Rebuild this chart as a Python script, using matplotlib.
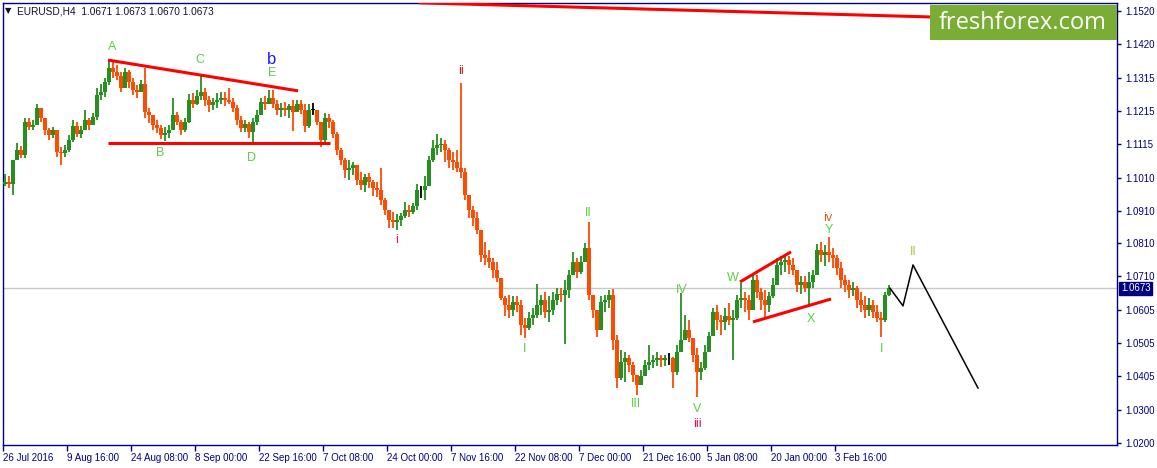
import matplotlib
matplotlib.use('Agg')
import matplotlib.pyplot as plt
from matplotlib.patches import Rectangle
import matplotlib.transforms as mtransforms

# EURUSD H4, one candle here = 4 H4 bars
bars_per_candle = 4
first_open = 1.0990
closes = [
    1.0998, 1.0992, 1.1065, 1.1095, 1.1080, 1.1181, 1.1166, 1.1172, 1.1224, 1.1193,
    1.1156, 1.1141, 1.1156, 1.1089, 1.1086, 1.1095, 1.1126, 1.1169, 1.1144, 1.1156,
    1.1187, 1.1172, 1.1196, 1.1263, 1.1273, 1.1303, 1.1346, 1.1334, 1.1321, 1.1285,
    1.1334, 1.1303, 1.1279, 1.1273, 1.1297, 1.1212, 1.1202, 1.1172, 1.1163, 1.1141,
    1.1147, 1.1156, 1.1202, 1.1181, 1.1156, 1.1181, 1.1248, 1.1236, 1.1260, 1.1273,
    1.1248, 1.1233, 1.1242, 1.1248, 1.1254, 1.1248, 1.1242, 1.1224, 1.1187, 1.1163,
    1.1175, 1.1150, 1.1181, 1.1202, 1.1242, 1.1236, 1.1254, 1.1236, 1.1218, 1.1224,
    1.1218, 1.1230, 1.1212, 1.1236, 1.1218, 1.1169, 1.1218, 1.1218, 1.1181, 1.1126,
    1.1193, 1.1181, 1.1144, 1.1095, 1.1065, 1.1034, 1.1040, 1.1050, 1.1004, 1.0988,
    1.1013, 1.0998, 1.0979, 1.0973, 1.0943, 1.0912, 1.0882, 1.0875, 1.0882, 1.0894,
    1.0912, 1.0906, 1.0924, 1.0973, 1.0973, 1.0985, 1.1065, 1.1102, 1.1111, 1.1114,
    1.1095, 1.1065, 1.1059, 1.1040, 1.1028, 1.0958, 1.0912, 1.0888, 1.0851, 1.0775,
    1.0766, 1.0753, 1.0729, 1.0704, 1.0643, 1.0622, 1.0607, 1.0631, 1.0622, 1.0561,
    1.0552, 1.0582, 1.0591, 1.0622, 1.0637, 1.0601, 1.0607, 1.0637, 1.0655, 1.0652,
    1.0668, 1.0713, 1.0753, 1.0723, 1.0753, 1.0796, 1.0652, 1.0607, 1.0546, 1.0631,
    1.0637, 1.0652, 1.0515, 1.0399, 1.0448, 1.0460, 1.0438, 1.0408, 1.0378, 1.0405,
    1.0438, 1.0448, 1.0454, 1.0460, 1.0454, 1.0460, 1.0460, 1.0417, 1.0478, 1.0515,
    1.0546, 1.0521, 1.0469, 1.0417, 1.0429, 1.0478, 1.0527, 1.0601, 1.0576, 1.0570,
    1.0588, 1.0576, 1.0582, 1.0637, 1.0643, 1.0637, 1.0607, 1.0698, 1.0662, 1.0637,
    1.0622, 1.0649, 1.0683, 1.0744, 1.0753, 1.0759, 1.0744, 1.0729, 1.0683, 1.0692,
    1.0674, 1.0692, 1.0713, 1.0790, 1.0775, 1.0784, 1.0775, 1.0766, 1.0735, 1.0698,
    1.0683, 1.0668, 1.0674, 1.0637, 1.0622, 1.0607, 1.0622, 1.0601, 1.0582, 1.0576,
    1.0652, 1.0673,
]
highs = [
    1.1022, 1.1016, 1.1028, 1.1117, 1.1108, 1.1193, 1.1193, 1.1187, 1.1236, 1.1224,
    1.1193, 1.1163, 1.1166, 1.1156, 1.1105, 1.1111, 1.1141, 1.1187, 1.1181, 1.1169,
    1.1218, 1.1193, 1.1208, 1.1285, 1.1297, 1.1315, 1.1370, 1.1364, 1.1355, 1.1334,
    1.1346, 1.1340, 1.1315, 1.1294, 1.1309, 1.1346, 1.1224, 1.1196, 1.1187, 1.1172,
    1.1166, 1.1172, 1.1254, 1.1212, 1.1187, 1.1193, 1.1267, 1.1270, 1.1279, 1.1328,
    1.1285, 1.1260, 1.1254, 1.1270, 1.1273, 1.1273, 1.1285, 1.1254, 1.1233, 1.1199,
    1.1187, 1.1181, 1.1193, 1.1218, 1.1254, 1.1260, 1.1279, 1.1279, 1.1248, 1.1239,
    1.1242, 1.1236, 1.1248, 1.1248, 1.1248, 1.1236, 1.1236, 1.1239, 1.1218, 1.1181,
    1.1208, 1.1205, 1.1187, 1.1150, 1.1102, 1.1071, 1.1065, 1.1059, 1.1050, 1.1028,
    1.1022, 1.1025, 1.1004, 1.0998, 1.1040, 1.0949, 1.0912, 1.0906, 1.0900, 1.0903,
    1.0937, 1.0927, 1.0933, 1.0992, 1.0985, 1.1016, 1.1077, 1.1126, 1.1144, 1.1132,
    1.1126, 1.1102, 1.1089, 1.1095, 1.1300, 1.1040, 1.0949, 1.0924, 1.0906, 1.0820,
    1.0814, 1.0790, 1.0766, 1.0753, 1.0698, 1.0649, 1.0652, 1.0649, 1.0649, 1.0637,
    1.0582, 1.0601, 1.0613, 1.0686, 1.0652, 1.0662, 1.0649, 1.0662, 1.0674, 1.0674,
    1.0698, 1.0729, 1.0784, 1.0766, 1.0772, 1.0812, 1.0875, 1.0643, 1.0607, 1.0649,
    1.0652, 1.0668, 1.0670, 1.0530, 1.0484, 1.0478, 1.0469, 1.0448, 1.0408, 1.0423,
    1.0454, 1.0500, 1.0469, 1.0478, 1.0469, 1.0469, 1.0475, 1.0463, 1.0500, 1.0659,
    1.0591, 1.0576, 1.0521, 1.0491, 1.0448, 1.0500, 1.0539, 1.0613, 1.0622, 1.0591,
    1.0613, 1.0628, 1.0607, 1.0652, 1.0689, 1.0662, 1.0652, 1.0720, 1.0713, 1.0674,
    1.0668, 1.0662, 1.0704, 1.0766, 1.0772, 1.0778, 1.0772, 1.0766, 1.0729, 1.0710,
    1.0710, 1.0723, 1.0729, 1.0808, 1.0814, 1.0805, 1.0829, 1.0796, 1.0775, 1.0753,
    1.0713, 1.0698, 1.0692, 1.0680, 1.0662, 1.0649, 1.0643, 1.0637, 1.0622, 1.0601,
    1.0662, 1.0683,
]
lows = [
    1.0985, 1.0979, 1.0958, 1.1065, 1.1071, 1.1071, 1.1156, 1.1156, 1.1172, 1.1181,
    1.1141, 1.1126, 1.1132, 1.1074, 1.1050, 1.1074, 1.1089, 1.1120, 1.1135, 1.1132,
    1.1163, 1.1156, 1.1175, 1.1187, 1.1248, 1.1257, 1.1294, 1.1315, 1.1309, 1.1273,
    1.1294, 1.1285, 1.1263, 1.1254, 1.1273, 1.1193, 1.1178, 1.1156, 1.1147, 1.1129,
    1.1123, 1.1132, 1.1163, 1.1172, 1.1141, 1.1150, 1.1178, 1.1224, 1.1233, 1.1248,
    1.1230, 1.1212, 1.1218, 1.1224, 1.1236, 1.1230, 1.1236, 1.1212, 1.1172, 1.1150,
    1.1150, 1.1132, 1.1120, 1.1172, 1.1202, 1.1218, 1.1236, 1.1224, 1.1202, 1.1196,
    1.1199, 1.1193, 1.1153, 1.1212, 1.1205, 1.1150, 1.1163, 1.1202, 1.1172, 1.1105,
    1.1111, 1.1163, 1.1132, 1.1080, 1.1050, 1.1010, 1.1004, 1.1019, 1.0988, 1.0973,
    1.0967, 1.0979, 1.0955, 1.0952, 1.0927, 1.0897, 1.0857, 1.0857, 1.0851, 1.0863,
    1.0888, 1.0891, 1.0900, 1.0912, 1.0949, 1.0943, 1.0998, 1.1059, 1.1080, 1.1089,
    1.1059, 1.1040, 1.1034, 1.1028, 1.1010, 1.0943, 1.0888, 1.0863, 1.0839, 1.0753,
    1.0744, 1.0735, 1.0704, 1.0692, 1.0637, 1.0588, 1.0582, 1.0588, 1.0601, 1.0530,
    1.0521, 1.0546, 1.0561, 1.0582, 1.0591, 1.0582, 1.0570, 1.0591, 1.0622, 1.0631,
    1.0503, 1.0643, 1.0729, 1.0704, 1.0717, 1.0753, 1.0637, 1.0582, 1.0524, 1.0582,
    1.0601, 1.0613, 1.0484, 1.0368, 1.0393, 1.0387, 1.0417, 1.0387, 1.0347, 1.0378,
    1.0408, 1.0423, 1.0429, 1.0435, 1.0432, 1.0435, 1.0438, 1.0368, 1.0408, 1.0478,
    1.0515, 1.0509, 1.0448, 1.0341, 1.0393, 1.0423, 1.0478, 1.0530, 1.0546, 1.0530,
    1.0546, 1.0561, 1.0454, 1.0576, 1.0613, 1.0601, 1.0576, 1.0622, 1.0643, 1.0607,
    1.0582, 1.0601, 1.0643, 1.0692, 1.0713, 1.0723, 1.0717, 1.0713, 1.0662, 1.0655,
    1.0662, 1.0622, 1.0674, 1.0744, 1.0753, 1.0741, 1.0753, 1.0735, 1.0713, 1.0674,
    1.0662, 1.0643, 1.0649, 1.0613, 1.0601, 1.0582, 1.0588, 1.0582, 1.0570, 1.0524,
    1.0570, 1.0649,
]

price_ticks = [1.1520, 1.1420, 1.1315, 1.1215, 1.1115, 1.1010, 1.0910,
               1.0810, 1.0710, 1.0605, 1.0505, 1.0405, 1.0300, 1.0200]
date_bars = [0, 64, 128, 192, 256, 320, 384, 448, 512, 576, 640, 704, 768, 832]
date_labels = ['26 Jul 2016', '9 Aug 16:00', '24 Aug 08:00', '8 Sep 00:00',
               '22 Sep 16:00', '7 Oct 08:00', '24 Oct 00:00', '7 Nov 16:00',
               '22 Nov 08:00', '7 Dec 00:00', '21 Dec 16:00', '5 Jan 08:00',
               '20 Jan 00:00', '3 Feb 16:00']
last_price = 1.0673

# wave marks: text, bar, price, colour
green = '#5ccd45'
wave_labels = [
    ('A', 109, 1.1410, green), ('B', 157, 1.1086, green), ('C', 197, 1.1370, green),
    ('D', 248, 1.1071, green), ('E', 269, 1.1331, green),
    ('i', 394, 1.0820, '#e8175d'), ('ii', 458, 1.1337, '#c81e1e'),
    ('I', 522, 1.0487, green), ('II', 585, 1.0903, green), ('III', 633, 1.0320, green),
    ('IV', 679, 1.0668, green), ('V', 694, 1.0304, green), ('iii', 694, 1.0258, '#e0115f'),
    ('W', 730, 1.0704, green), ('X', 808, 1.0579, green), ('Y', 826, 1.0851, green),
    ('iv', 825, 1.0888, '#d2601e'), ('I', 879, 1.0487, green), ('II', 910, 1.0784, '#a8c832'),
]

# red trend lines: (bar0, price0, bar1, price1)
trend_lines = [
    (105, 1.1370, 295, 1.1276),
    (105, 1.1117, 327, 1.1117),
    (416, 1.1545, 1114, 1.1486),
    (737, 1.0692, 788, 1.0784),
    (750, 1.0570, 828, 1.0640),
]

forecast_bars = [887, 900, 910, 975]
forecast_prices = [1.0673, 1.0619, 1.0744, 1.0368]

navy = '#000080'
up_col = '#23901f'
down_col = '#ff4a00'
plt.rcParams['font.family'] = ['Liberation Sans', 'DejaVu Sans']

fig = plt.figure(figsize=(11.57, 4.68), dpi=100)
ax = fig.add_axes([3 / 1157, 1 - 445 / 468, 1114 / 1157, 442 / 468])
ax.set_xlim(0, 1114)
ax.set_ylim(1.01939, 1.15444)

# candles
opens = [first_open] + closes[:-1]
for k, (o, h, l, c) in enumerate(zip(opens, highs, lows, closes)):
    x = bars_per_candle * k + 2
    if abs(c - o) < 0.00005:
        col = 'black'
    elif c > o:
        col = up_col
    else:
        col = down_col
    ax.vlines(x, min(l, o, c), max(h, o, c), color=col, lw=1.3, zorder=3)
    ax.bar(x, max(abs(c - o), 0.0001), bottom=min(o, c), width=3.4,
           color=col, lw=0, zorder=3)

ax.axhline(last_price, color='#c8c8c8', lw=1, zorder=1)

for b0, p0, b1, p1 in trend_lines:
    ax.plot([b0, b1], [p0, p1], color='#ff0000', lw=2.2, zorder=4,
            solid_capstyle='butt')

ax.plot(forecast_bars, forecast_prices, color='black', lw=1.1, zorder=4)

for txt, b, p, col in wave_labels:
    ax.text(b, p, txt, color=col, fontsize=9, ha='center', va='center', zorder=5)
ax.text(269, 1.1373, 'b', color='#1a1aff', fontsize=12, ha='center', va='center', zorder=5)

# axes look
for s in ax.spines.values():
    s.set_color(navy)
    s.set_linewidth(1)
ax.yaxis.tick_right()
ax.set_yticks(price_ticks)
ax.set_yticklabels(['%.4f' % v for v in price_ticks])
ax.set_xticks(date_bars)
ax.set_xticklabels(date_labels)
for lab in ax.get_xticklabels():
    lab.set_ha('left')
ax.tick_params(axis='both', colors=navy, labelsize=7, length=4, width=1,
               direction='out', pad=2)
ax.tick_params(axis='y', length=3, pad=3)

# current price box
trans = mtransforms.blended_transform_factory(ax.transAxes, ax.transData)
ax.text(1.0035, last_price, '1.0673', transform=trans, fontsize=7, color='white',
        ha='left', va='center', zorder=6,
        bbox=dict(boxstyle='square,pad=0.15', fc=navy, ec=navy))

# header
fig.text(5 / 1157, 1 - 11 / 468, '\u25bc', fontsize=6, color='#101030',
         va='center', ha='left', family='DejaVu Sans')
fig.text(17 / 1157, 1 - 11 / 468, 'EURUSD,H4  1.0671 1.0673 1.0670 1.0673',
         fontsize=7.3, color='#101030', va='center', ha='left')

# logo
fig.patches.append(Rectangle((930 / 1157, 1 - 40 / 468), 187 / 1157, 35 / 468,
                             transform=fig.transFigure, fc='#79ad36', ec='none',
                             zorder=10))
fig.text(1023 / 1157, 1 - 23 / 468, 'freshforex.com', fontsize=17, color='white',
         ha='center', va='center', family='Open Sans', zorder=11)

fig.savefig('out.png', dpi=100)
